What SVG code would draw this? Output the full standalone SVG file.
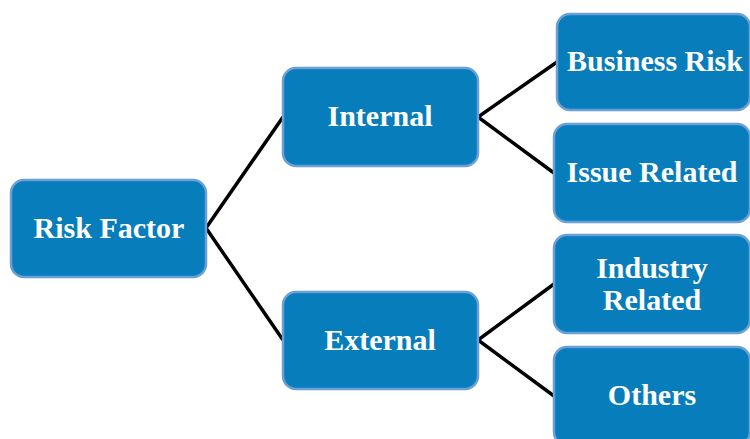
<svg xmlns="http://www.w3.org/2000/svg" width="750" height="439" viewBox="0 0 750 439">
<style>
.box{fill:#077DBB;stroke:#6A9FD8;stroke-width:2.5}
.t{font-family:"Liberation Serif","Times New Roman",serif;font-weight:bold;font-size:30px;fill:#fff;text-anchor:middle}
.c{stroke:#000;stroke-width:3.5;fill:none}
</style>
<rect width="750" height="439" fill="#fff"/>
<g id="connectors">
<polyline class="c" points="283,117 206,228 283,340"/>
<polyline class="c" points="557,62 478,117 554,173"/>
<polyline class="c" points="554,284 478,340 554,396"/>
</g>
<g id="risk-factor"><rect class="box" x="11" y="180" width="195" height="97" rx="13"/><text class="t" x="109" y="238">Risk Factor</text></g>
<g id="internal"><rect class="box" x="283" y="68" width="195" height="98" rx="13"/><text class="t" x="380" y="126">Internal</text></g>
<g id="external"><rect class="box" x="283" y="292" width="195" height="97" rx="13"/><text class="t" x="380" y="350">External</text></g>
<g id="business-risk"><rect class="box" x="557" y="14" width="193" height="96" rx="13"/><text class="t" x="655" y="71">Business Risk</text></g>
<g id="issue-related"><rect class="box" x="554" y="124" width="196" height="98" rx="13"/><text class="t" x="652" y="182">Issue Related</text></g>
<g id="industry-related"><rect class="box" x="554" y="235" width="196" height="98" rx="13"/><text class="t" x="652" y="278">Industry</text><text class="t" x="652" y="310">Related</text></g>
<g id="others"><rect class="box" x="554" y="347" width="196" height="98" rx="13"/><text class="t" x="652" y="405">Others</text></g>
</svg>
